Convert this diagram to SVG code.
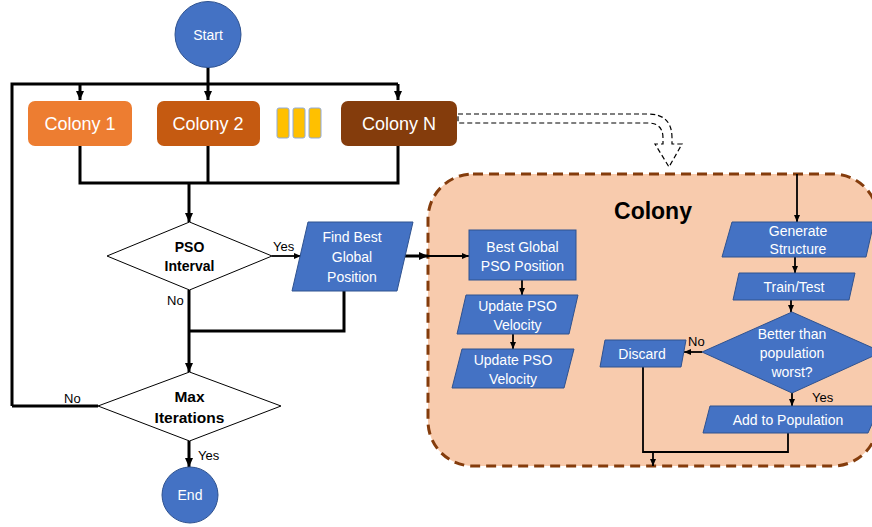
<svg xmlns="http://www.w3.org/2000/svg" width="872" height="527" viewBox="0 0 872 527">
<defs>
<style>
text{font-family:"Liberation Sans",Arial,sans-serif;}
.w{fill:#fff;font-size:14px;text-anchor:middle;}
.col{fill:#fff;font-size:18px;text-anchor:middle;}
.lbl{fill:#000;font-size:13px;}
.bd{fill:#000;font-weight:bold;text-anchor:middle;}
.blue{fill:#4472C4;stroke:#2F528F;stroke-width:1;}
.main{fill:none;stroke:#000;stroke-width:3;}
.thin{fill:none;stroke:#000;stroke-width:1.8;}
</style>
<marker id="ab" markerWidth="10" markerHeight="10" refX="9" refY="5" orient="auto" markerUnits="userSpaceOnUse">
<path d="M0,1 L9,5 L0,9 z" fill="#000"/>
</marker>
<marker id="as" markerWidth="8" markerHeight="8" refX="7" refY="4" orient="auto" markerUnits="userSpaceOnUse">
<path d="M0,1 L7,4 L0,7 z" fill="#000"/>
</marker>
</defs>
<rect width="872" height="527" fill="#fff"/>

<g id="colony-container">
<rect x="428" y="174" width="450" height="292" rx="45" ry="45" fill="#F8CBAD" stroke="#843C0C" stroke-width="3" stroke-dasharray="10 6"/>
<text class="bd" x="653" y="219" font-size="23">Colony</text>
</g>

<g id="connectors">
<line class="main" x1="208" y1="67" x2="208" y2="100" marker-end="url(#ab)"/>
<polyline class="main" points="12,406 12,84 398,84"/>
<line class="main" x1="80" y1="84" x2="80" y2="100" marker-end="url(#ab)"/>
<line class="main" x1="398" y1="84" x2="398" y2="100" marker-end="url(#ab)"/>
<polyline class="main" points="80,146 80,183 398,183 398,146"/>
<line class="main" x1="208" y1="146" x2="208" y2="183"/>
<line class="main" x1="189" y1="183" x2="189" y2="222" marker-end="url(#ab)"/>
<line class="thin" x1="272" y1="256" x2="301" y2="256" marker-end="url(#as)"/>
<line class="main" x1="189" y1="290" x2="189" y2="372" marker-end="url(#ab)"/>
<polyline class="main" points="344,291 344,331 189,331"/>
<line class="main" x1="98" y1="406" x2="12" y2="406"/>
<line class="main" x1="189" y1="441" x2="189" y2="467" marker-end="url(#ab)"/>
<line class="main" x1="405" y1="256" x2="428" y2="256" marker-end="url(#ab)"/>
<line class="thin" x1="428" y1="256" x2="469" y2="256" marker-end="url(#as)"/>
<path d="M458,114 H648 Q672,114 672,138 V144 H682 L669,167 L655,144 H663 V138 Q663,123 648,123 H458 Z" fill="none" stroke="#000" stroke-width="1.2" stroke-dasharray="5 3"/>
<line class="thin" x1="522" y1="280" x2="522" y2="295" marker-end="url(#as)"/>
<line class="thin" x1="513" y1="334" x2="513" y2="349" marker-end="url(#as)"/>
<line class="thin" x1="797" y1="174" x2="797" y2="222" marker-end="url(#as)"/>
<line class="thin" x1="795" y1="257" x2="795" y2="273" marker-end="url(#as)"/>
<line class="thin" x1="791" y1="300" x2="791" y2="312" marker-end="url(#as)"/>
<line class="thin" x1="702" y1="352" x2="684" y2="352" marker-end="url(#as)"/>
<line class="thin" x1="792" y1="393" x2="792" y2="406" marker-end="url(#as)"/>
<polyline class="thin" points="643,367 643,452 788,452 788,433"/>
<line class="thin" x1="653" y1="452" x2="653" y2="466" marker-end="url(#as)"/>
<text class="lbl" x="273" y="251">Yes</text>
<text class="lbl" x="167" y="305">No</text>
<text class="lbl" x="64" y="403">No</text>
<text class="lbl" x="198" y="460">Yes</text>
<text class="lbl" x="688" y="346">No</text>
<text class="lbl" x="812" y="402">Yes</text>
</g>

<g id="start">
<circle cx="208" cy="34.5" r="33" class="blue"/>
<text class="w" x="208" y="39.5">Start</text>
</g>
<g id="colony1">
<rect x="28" y="101" width="104" height="45" rx="7" fill="#ED7D31"/>
<text class="col" x="80" y="130">Colony 1</text>
</g>
<g id="colony2">
<rect x="157" y="101" width="103" height="45" rx="7" fill="#C55A11"/>
<text class="col" x="208" y="130">Colony 2</text>
</g>
<g id="ellipsis">
<rect x="277" y="108" width="12" height="30" rx="2" fill="#FFC000" stroke="#8FAADC" stroke-width="1"/>
<rect x="293" y="108" width="12" height="30" rx="2" fill="#FFC000" stroke="#8FAADC" stroke-width="1"/>
<rect x="309" y="108" width="12" height="30" rx="2" fill="#FFC000" stroke="#8FAADC" stroke-width="1"/>
</g>
<g id="colonyN">
<rect x="341" y="101" width="116" height="45" rx="7" fill="#843C0C"/>
<text class="col" x="399" y="130">Colony N</text>
</g>
<g id="pso-interval">
<polygon points="107,256 189.5,222 272,256 189.5,290" fill="#fff" stroke="#000" stroke-width="1"/>
<text class="bd" x="189.5" y="252" font-size="14">PSO</text>
<text class="bd" x="189.5" y="271" font-size="14">Interval</text>
</g>
<g id="find-best">
<polygon points="308,222 413,222 397,291 292,291" class="blue"/>
<text class="w" x="352" y="242">Find Best</text>
<text class="w" x="352" y="262">Global</text>
<text class="w" x="352" y="282">Position</text>
</g>
<g id="max-iterations">
<polygon points="98,406 189.5,372 281,406 189.5,441" fill="#fff" stroke="#000" stroke-width="1"/>
<text class="bd" x="189.5" y="402" font-size="15.5">Max</text>
<text class="bd" x="189.5" y="423" font-size="15.5">Iterations</text>
</g>
<g id="end">
<circle cx="190" cy="495" r="28" class="blue"/>
<text class="w" x="190" y="500">End</text>
</g>
<g id="best-global">
<rect x="469" y="230" width="107" height="50" class="blue"/>
<text class="w" x="522.5" y="252">Best Global</text>
<text class="w" x="522.5" y="271">PSO Position</text>
</g>
<g id="update-velocity-1">
<polygon points="466,295 578,295 569,334 457,334" class="blue"/>
<text class="w" x="517.5" y="311">Update PSO</text>
<text class="w" x="517.5" y="330">Velocity</text>
</g>
<g id="update-velocity-2">
<polygon points="462,349 574,349 564,388 452,388" class="blue"/>
<text class="w" x="513" y="365">Update PSO</text>
<text class="w" x="513" y="384">Velocity</text>
</g>
<g id="generate-structure">
<polygon points="732,222 874,222 866,257 722,257" class="blue"/>
<text class="w" x="798" y="236">Generate</text>
<text class="w" x="798" y="254">Structure</text>
</g>
<g id="train-test">
<polygon points="739,273 855,273 849,300 733,300" class="blue"/>
<text class="w" x="794" y="292">Train/Test</text>
</g>
<g id="better-than">
<polygon points="702,352 792,312 882,352 792,393" class="blue"/>
<text class="w" x="792" y="339">Better than</text>
<text class="w" x="792" y="358">population</text>
<text class="w" x="792" y="377">worst?</text>
</g>
<g id="discard">
<polygon points="605,340 686,340 681,367 600,367" class="blue"/>
<text class="w" x="642" y="359">Discard</text>
</g>
<g id="add-to-population">
<polygon points="710,406 880,406 868,433 703,433" class="blue"/>
<text class="w" x="788" y="425">Add to Population</text>
</g>
</svg>
